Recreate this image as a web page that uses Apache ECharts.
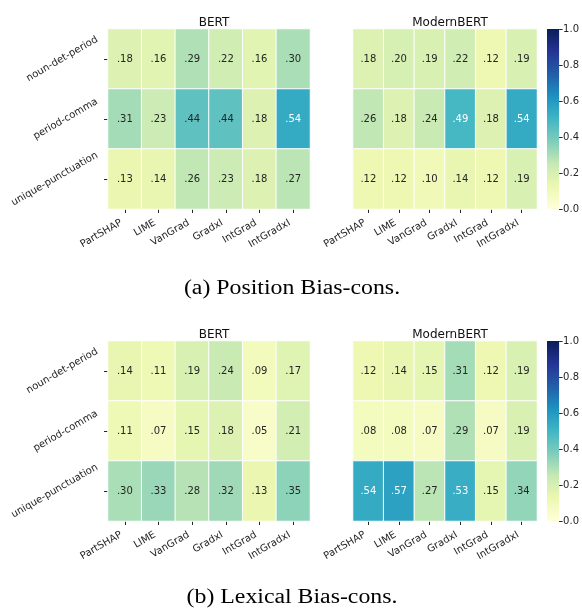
<!DOCTYPE html>
<html>
<head>
<meta charset="utf-8">
<script src="https://cdn.jsdelivr.net/npm/echarts@6/dist/echarts.min.js"></script>
<style>
  html, body { margin: 0; padding: 0; background: #fff; }
  #chart { width: 582px; height: 610px; }
</style>
</head>
<body>
<div id="chart"></div>
<script>
// Explainer methods (columns) and probing tasks (rows)
const methods = ['PartSHAP', 'LIME', 'VanGrad', 'GradxI', 'IntGrad', 'IntGradxI'];
const tasks = ['noun-det-period', 'period-comma', 'unique-punctuation'];
const modelTitles = ['BERT', 'ModernBERT'];
const captions = ['(a) Position Bias-cons.', '(b) Lexical Bias-cons.'];
const colorbarRange = [0, 1.0];

// (a) Position bias, rows follow `tasks`
const positionBert = [
  [0.18, 0.16, 0.29, 0.22, 0.16, 0.30],
  [0.31, 0.23, 0.44, 0.44, 0.18, 0.54],
  [0.13, 0.14, 0.26, 0.23, 0.18, 0.27]
];
const positionModern = [
  [0.18, 0.20, 0.19, 0.22, 0.12, 0.19],
  [0.26, 0.18, 0.24, 0.49, 0.18, 0.54],
  [0.12, 0.12, 0.10, 0.14, 0.12, 0.19]
];
// (b) Lexical bias
const lexicalBert = [
  [0.14, 0.11, 0.19, 0.24, 0.09, 0.17],
  [0.11, 0.07, 0.15, 0.18, 0.05, 0.21],
  [0.30, 0.33, 0.28, 0.32, 0.13, 0.35]
];
const lexicalModern = [
  [0.12, 0.14, 0.15, 0.31, 0.12, 0.19],
  [0.08, 0.08, 0.07, 0.29, 0.07, 0.19],
  [0.54, 0.57, 0.27, 0.53, 0.15, 0.34]
];

// YlGnBu colormap stops
const ylgnbu = ['#ffffd9', '#edf8b1', '#c7e9b4', '#7fcdbb', '#41b6c4',
                '#1d91c0', '#225ea8', '#253494', '#081d58'];

const FONT = 'DejaVu Sans';
const TICK_FONT = 10;
const TICK_COLOR = '#262626';
const panels = [
  { values: positionBert,   title: 0, left: 108, width: 202, top: 29,  ylabels: true },
  { values: positionModern, title: 1, left: 353, width: 184, top: 29,  ylabels: false },
  { values: lexicalBert,    title: 0, left: 108, width: 202, top: 341, ylabels: true },
  { values: lexicalModern,  title: 1, left: 353, width: 184, top: 341, ylabels: false }
];
const cellH = 180;
const tickLen = 4;

const grids = [], xAxes = [], yAxes = [], series = [], titles = [];

panels.forEach((p, i) => {
  grids.push({ left: p.left, top: p.top, width: p.width, height: cellH });
  xAxes.push({
    type: 'category', gridIndex: i, data: methods, position: 'bottom',
    axisLine: { show: false },
    axisTick: { show: true, alignWithLabel: true, length: tickLen, lineStyle: { color: TICK_COLOR, width: 1 } },
    axisLabel: { rotate: 30, fontFamily: FONT, fontSize: TICK_FONT, color: TICK_COLOR,
                 margin: 11, padding: [0, 4, 0, 0] },
    splitLine: { show: false }
  });
  // Row labels are placed as rotated text blocks below (centred on each tick)
  yAxes.push({
    type: 'category', gridIndex: i, data: tasks, inverse: true,
    axisLine: { show: false },
    axisTick: { show: p.ylabels, alignWithLabel: true, length: tickLen, lineStyle: { color: TICK_COLOR, width: 1 } },
    axisLabel: { show: false },
    splitLine: { show: false }
  });
  const data = [];
  p.values.forEach((row, r) => row.forEach((v, c) => data.push({
    value: [c, r, v],
    label: { color: v > 0.46 ? '#ffffff' : TICK_COLOR }
  })));
  series.push({
    type: 'heatmap', xAxisIndex: i, yAxisIndex: i, data: data,
    itemStyle: { borderColor: '#ffffff', borderWidth: 1 },
    label: {
      show: true, fontFamily: FONT, fontSize: TICK_FONT,
      formatter: prm => prm.value[2].toFixed(2).replace(/^0/, '')
    },
    emphasis: { disabled: true }
  });
  titles.push({
    text: modelTitles[p.title], left: p.left + p.width / 2, top: p.top - 17,
    textAlign: 'center',
    textStyle: { fontFamily: FONT, fontSize: 12, fontWeight: 'normal', color: '#111' }
  });
});

// Colorbars: one per row of panels, a gradient bar on a 0-1 value axis
const cbTops = [29, 341];
const gradientStops = ylgnbu.map((c, k) => ({ offset: 1 - k / (ylgnbu.length - 1), color: c }));
cbTops.forEach(top => {
  const gi = grids.length;
  grids.push({ left: 547, top: top, width: 13, height: cellH });
  xAxes.push({ type: 'category', gridIndex: gi, data: ['cb'], show: false });
  yAxes.push({
    type: 'value', gridIndex: gi, min: colorbarRange[0], max: colorbarRange[1], interval: 0.2, position: 'right',
    axisLine: { show: false },
    axisTick: { show: true, length: 3.5, lineStyle: { color: TICK_COLOR } },
    axisLabel: { fontFamily: FONT, fontSize: TICK_FONT, color: TICK_COLOR, margin: 4,
                 formatter: v => v.toFixed(1) },
    splitLine: { show: false }
  });
  series.push({
    type: 'bar', xAxisIndex: gi, yAxisIndex: gi, data: [colorbarRange[1]],
    barWidth: '100%', silent: true,
    itemStyle: { color: new echarts.graphic.LinearGradient(0, 0, 0, 1, gradientStops) }
  });
});

const chart = echarts.init(document.getElementById('chart'), null, { renderer: 'canvas' });
chart.setOption({
  animation: false,
  backgroundColor: '#ffffff',
  title: titles,
  grid: grids,
  xAxis: xAxes,
  yAxis: yAxes,
  visualMap: {
    type: 'continuous', show: false, min: colorbarRange[0], max: colorbarRange[1],
    seriesIndex: [0, 1, 2, 3], dimension: 2,
    inRange: { color: ylgnbu }
  },
  series: series
});

// Rotated row labels: the rotated block is right-aligned to the tick and centred on it
const ctx = document.createElement('canvas').getContext('2d');
ctx.font = TICK_FONT + 'px "' + FONT + '"';
const ang = Math.PI / 6;
const lineH = TICK_FONT * 1.16;
const graphics = [];
panels.forEach((p, i) => {
  if (!p.ylabels) return;
  const rightEdge = p.left - tickLen - 4;
  tasks.forEach((t, r) => {
    const pt = chart.convertToPixel({ xAxisIndex: i, yAxisIndex: i }, [0, r]);
    const L = ctx.measureText(t).width;
    const W = L * Math.cos(ang) + lineH * Math.sin(ang);
    graphics.push({
      type: 'text', x: rightEdge - W / 2, y: pt[1], rotation: ang, silent: true,
      style: { text: t, fontFamily: FONT, fontSize: TICK_FONT, fill: TICK_COLOR,
               align: 'center', verticalAlign: 'middle' }
    });
  });
});

// Sub-figure captions in a wide serif face
const captionY = [289, 598];
captions.forEach((t, j) => {
  graphics.push({
    type: 'text', x: 292, y: captionY[j], scaleX: 1.19, silent: true,
    style: { text: t, fontFamily: 'Liberation Serif', fontSize: 20, fill: '#000',
             align: 'center', verticalAlign: 'middle' }
  });
});
chart.setOption({ graphic: graphics });
</script>
</body>
</html>
